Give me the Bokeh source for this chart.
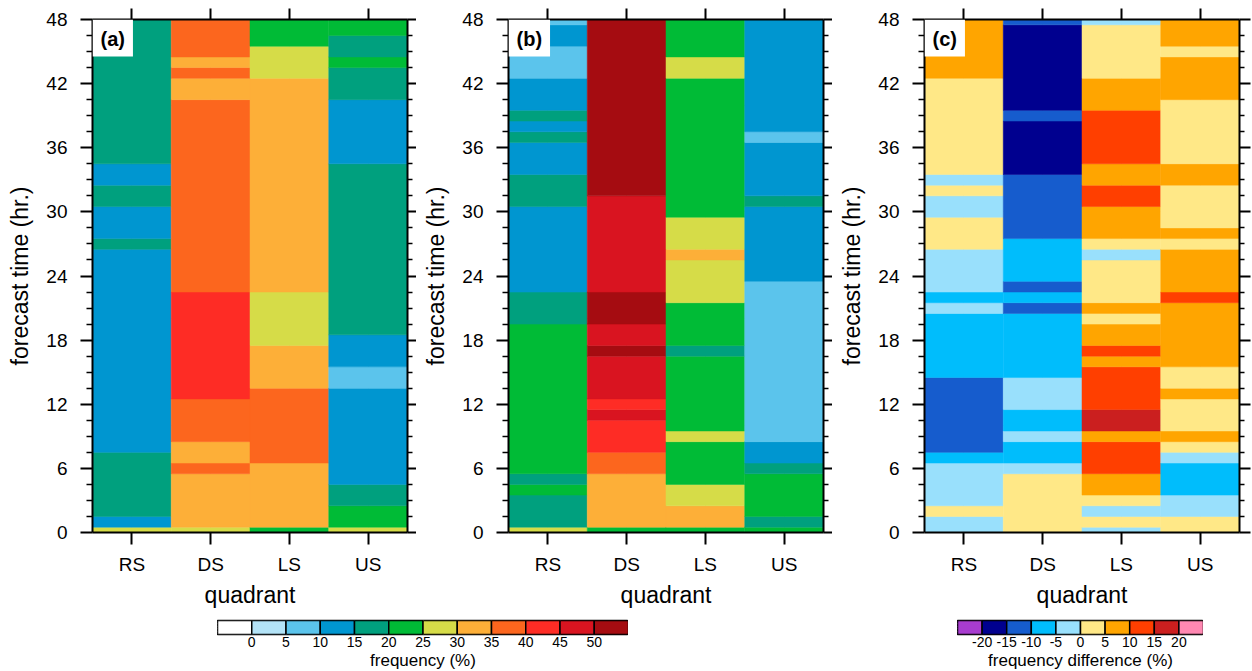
from bokeh.plotting import figure
from bokeh.models import (Range1d, FactorRange, LinearAxis, CategoricalAxis, FixedTicker,
                          ColumnDataSource, Label, Spacer, LinearColorMapper,
                          CustomLabelingPolicy)
from bokeh.layouts import row, column
from bokeh.embed import file_html
from bokeh.resources import INLINE
import numpy as np

FONT = "Liberation Sans"

quadrants = ["RS", "DS", "LS", "US"]
hours = list(range(49))          # 0 .. 48 hr
y_ticks = [0, 6, 12, 18, 24, 30, 36, 42, 48]

freq_palette = ["#ffffff", "#b3e3f7", "#5bc4ec", "#0096d0", "#00a07e", "#00bb36",
                "#d6dc48", "#fdaf38", "#fc661e", "#fe2c25", "#d91420", "#a50c11"]
freq_labels = ["0", "5", "10", "15", "20", "25", "30", "35", "40", "45", "50"]
diff_palette = ["#a83ccf", "#00008f", "#165ccd", "#00bdfc", "#99e0fc",
                "#ffe887", "#ffa500", "#ff3f00", "#cb1f1f", "#ff88b2"]
diff_labels = ["-20", "-15", "-10", "-5", "0", "5", "10", "15", "20"]

# ---------------- (a) frequency (%) per forecast hour 0..48 ----------------
a_RS = [27.5, 12.5, 17.5, 17.5, 17.5, 17.5, 17.5,
        17.5, 12.5, 12.5, 12.5, 12.5, 12.5, 12.5,
        12.5, 12.5, 12.5, 12.5, 12.5, 12.5, 12.5,
        12.5, 12.5, 12.5, 12.5, 12.5, 12.5, 17.5,
        12.5, 12.5, 12.5, 17.5, 17.5, 12.5, 12.5,
        17.5, 17.5, 17.5, 17.5, 17.5, 17.5, 17.5,
        17.5, 17.5, 17.5, 17.5, 17.5, 17.5, 17.5]
a_DS = [27.5, 32.5, 32.5, 32.5, 32.5, 32.5, 37.5,
        32.5, 32.5, 37.5, 37.5, 37.5, 37.5, 42.5,
        42.5, 42.5, 42.5, 42.5, 42.5, 42.5, 42.5,
        42.5, 42.5, 37.5, 37.5, 37.5, 37.5, 37.5,
        37.5, 37.5, 37.5, 37.5, 37.5, 37.5, 37.5,
        37.5, 37.5, 37.5, 37.5, 37.5, 37.5, 32.5,
        32.5, 37.5, 32.5, 37.5, 37.5, 37.5, 37.5]
a_LS = [22.5, 32.5, 32.5, 32.5, 32.5, 32.5, 32.5,
        37.5, 37.5, 37.5, 37.5, 37.5, 37.5, 37.5,
        32.5, 32.5, 32.5, 32.5, 27.5, 27.5, 27.5,
        27.5, 27.5, 32.5, 32.5, 32.5, 32.5, 32.5,
        32.5, 32.5, 32.5, 32.5, 32.5, 32.5, 32.5,
        32.5, 32.5, 32.5, 32.5, 32.5, 32.5, 32.5,
        32.5, 27.5, 27.5, 27.5, 22.5, 22.5, 22.5]
a_US = [27.5, 22.5, 22.5, 17.5, 17.5, 12.5, 12.5,
        12.5, 12.5, 12.5, 12.5, 12.5, 12.5, 12.5,
        7.5, 7.5, 12.5, 12.5, 12.5, 17.5, 17.5,
        17.5, 17.5, 17.5, 17.5, 17.5, 17.5, 17.5,
        17.5, 17.5, 17.5, 17.5, 17.5, 17.5, 17.5,
        12.5, 12.5, 12.5, 12.5, 12.5, 12.5, 17.5,
        17.5, 17.5, 22.5, 17.5, 17.5, 22.5, 22.5]

# ---------------- (b) frequency (%) ----------------
b_RS = [27.5, 17.5, 17.5, 17.5, 22.5, 17.5, 22.5,
        22.5, 22.5, 22.5, 22.5, 22.5, 22.5, 22.5,
        22.5, 22.5, 22.5, 22.5, 22.5, 22.5, 17.5,
        17.5, 17.5, 12.5, 12.5, 12.5, 12.5, 12.5,
        12.5, 12.5, 12.5, 17.5, 17.5, 17.5, 12.5,
        12.5, 12.5, 17.5, 12.5, 17.5, 12.5, 12.5,
        12.5, 7.5, 7.5, 7.5, 12.5, 12.5, 7.5]
b_DS = [22.5, 32.5, 32.5, 32.5, 32.5, 32.5, 37.5,
        37.5, 42.5, 42.5, 42.5, 47.5, 42.5, 47.5,
        47.5, 47.5, 47.5, 52.5, 47.5, 47.5, 52.5,
        52.5, 52.5, 47.5, 47.5, 47.5, 47.5, 47.5,
        47.5, 47.5, 47.5, 47.5, 52.5, 52.5, 52.5,
        52.5, 52.5, 52.5, 52.5, 52.5, 52.5, 52.5,
        52.5, 52.5, 52.5, 52.5, 52.5, 52.5, 52.5]
b_LS = [22.5, 32.5, 32.5, 27.5, 27.5, 22.5, 22.5,
        22.5, 22.5, 27.5, 22.5, 22.5, 22.5, 22.5,
        22.5, 22.5, 22.5, 17.5, 22.5, 22.5, 22.5,
        22.5, 27.5, 27.5, 27.5, 27.5, 32.5, 27.5,
        27.5, 27.5, 22.5, 22.5, 22.5, 22.5, 22.5,
        22.5, 22.5, 22.5, 22.5, 22.5, 22.5, 22.5,
        22.5, 27.5, 27.5, 22.5, 22.5, 22.5, 22.5]
b_US = [22.5, 17.5, 22.5, 22.5, 22.5, 22.5, 17.5,
        12.5, 12.5, 7.5, 7.5, 7.5, 7.5, 7.5,
        7.5, 7.5, 7.5, 7.5, 7.5, 7.5, 7.5,
        7.5, 7.5, 7.5, 12.5, 12.5, 12.5, 12.5,
        12.5, 12.5, 12.5, 17.5, 12.5, 12.5, 12.5,
        12.5, 12.5, 7.5, 12.5, 12.5, 12.5, 12.5,
        12.5, 12.5, 12.5, 12.5, 12.5, 12.5, 12.5]

# ---------------- (c) frequency difference (%) ----------------
c_RS = [-2.5, -2.5, 2.5, -2.5, -2.5, -2.5, -2.5,
        -7.5, -12.5, -12.5, -12.5, -12.5, -12.5, -12.5,
        -12.5, -7.5, -7.5, -7.5, -7.5, -7.5, -7.5,
        -2.5, -7.5, -2.5, -2.5, -2.5, -2.5, 2.5,
        2.5, 2.5, -2.5, -2.5, 2.5, -2.5, 2.5,
        2.5, 2.5, 2.5, 2.5, 2.5, 2.5, 2.5,
        2.5, 7.5, 7.5, 7.5, 7.5, 7.5, 7.5]
c_DS = [2.5, 2.5, 2.5, 2.5, 2.5, 2.5, -2.5,
        -7.5, -7.5, -2.5, -7.5, -7.5, -2.5, -2.5,
        -2.5, -7.5, -7.5, -7.5, -7.5, -7.5, -7.5,
        -12.5, -7.5, -12.5, -7.5, -7.5, -7.5, -7.5,
        -12.5, -12.5, -12.5, -12.5, -12.5, -12.5, -17.5,
        -17.5, -17.5, -17.5, -17.5, -12.5, -17.5, -17.5,
        -17.5, -17.5, -17.5, -17.5, -17.5, -17.5, -12.5]
c_LS = [-2.5, 2.5, -2.5, 2.5, 7.5, 7.5, 12.5,
        12.5, 12.5, 7.5, 17.5, 17.5, 12.5, 12.5,
        12.5, 12.5, 7.5, 12.5, 7.5, 7.5, 2.5,
        7.5, 2.5, 2.5, 2.5, 2.5, -2.5, 2.5,
        7.5, 7.5, 7.5, 12.5, 12.5, 7.5, 7.5,
        12.5, 12.5, 12.5, 12.5, 12.5, 7.5, 7.5,
        7.5, 2.5, 2.5, 2.5, 2.5, 2.5, -2.5]
c_US = [2.5, 2.5, -2.5, -2.5, -7.5, -7.5, -7.5,
        -2.5, 2.5, 7.5, 2.5, 2.5, 2.5, 7.5,
        2.5, 2.5, 7.5, 7.5, 7.5, 7.5, 7.5,
        7.5, 12.5, 7.5, 7.5, 7.5, 7.5, 2.5,
        7.5, 2.5, 2.5, 2.5, 2.5, 7.5, 7.5,
        2.5, 2.5, 2.5, 2.5, 2.5, 2.5, 7.5,
        7.5, 7.5, 7.5, 2.5, 7.5, 7.5, 7.5]

NO_LABELS = CustomLabelingPolicy(code="""
    for (const i of indices) { indices.unset(i) }
    return indices
""")


def style_axis(ax, label_size="19px"):
    ax.axis_line_width = 2
    ax.axis_line_color = "black"
    ax.major_tick_line_width = 2
    ax.major_tick_line_color = "black"
    ax.minor_tick_line_width = 1.5
    ax.minor_tick_line_color = "black"
    ax.major_tick_in = 0
    ax.minor_tick_in = 0
    ax.major_label_text_font = FONT
    ax.major_label_text_font_size = label_size
    ax.major_label_text_color = "black"
    ax.axis_label_text_font = FONT
    ax.axis_label_text_font_size = "23px"
    ax.axis_label_text_font_style = "normal"
    ax.axis_label_text_color = "black"


def runs(vals):
    """contiguous runs of equal value -> (first hour, last hour, value)"""
    out = []
    start = 0
    for i in range(1, len(vals) + 1):
        if i == len(vals) or vals[i] != vals[start]:
            out.append((hours[start], hours[i - 1], vals[start]))
            start = i
    return out


def panel(series, palette, low, high, tag, right_border=9, right_tick=9):
    xs, ys, hs, vs = [], [], [], []
    for q, vals in zip(quadrants, series):
        for h0, h1, v in runs(vals):
            xs.append(q)
            ys.append((h0 + h1) / 2)
            hs.append(h1 - h0 + 1)
            vs.append(v)
    src = ColumnDataSource(dict(x=xs, y=ys, h=hs, v=vs))
    mapper = LinearColorMapper(palette=palette, low=low, high=high)

    p = figure(x_range=FactorRange(factors=quadrants), y_range=Range1d(0, 48),
               frame_width=315, frame_height=513,
               min_border_left=92, min_border_right=right_border,
               min_border_top=19, min_border_bottom=78,
               x_axis_location=None, y_axis_location=None,
               toolbar_location=None, output_backend="svg")
    p.outline_line_color = None
    p.background_fill_color = "white"
    p.border_fill_color = "white"

    p.rect(x="x", y="y", width=1, height="h", source=src,
           fill_color={"field": "v", "transform": mapper},
           line_color={"field": "v", "transform": mapper}, line_width=0.5)

    minor = [float(m) for m in np.arange(0, 48.01, 1.5) if m % 6 != 0]

    left = LinearAxis(ticker=FixedTicker(ticks=y_ticks, minor_ticks=minor),
                      axis_label="forecast time (hr.)")
    style_axis(left)
    left.major_tick_out = 12
    left.minor_tick_out = 6
    left.major_label_standoff = 13
    left.axis_label_standoff = 10
    p.add_layout(left, "left")

    right = LinearAxis(ticker=FixedTicker(ticks=y_ticks, minor_ticks=minor))
    style_axis(right, "0px")
    right.major_tick_out = right_tick
    right.minor_tick_out = 5
    right.major_label_standoff = 0
    right.major_label_policy = NO_LABELS
    p.add_layout(right, "right")

    below = CategoricalAxis(axis_label="quadrant")
    style_axis(below)
    below.major_tick_out = 12
    below.major_label_standoff = 9
    below.axis_label_standoff = 4
    p.add_layout(below, "below")

    above = CategoricalAxis()
    style_axis(above, "0px")
    above.major_tick_out = 11
    above.major_label_standoff = 0
    above.major_label_policy = NO_LABELS
    p.add_layout(above, "above")

    p.add_layout(Label(x=0, y=48, text=tag, text_font=FONT, text_font_size="20px",
                       text_font_style="bold", text_color="black",
                       text_align="left", text_baseline="top",
                       x_offset=0, y_offset=0, background_fill_color="white",
                       padding=dict(left=8, right=8, top=8, bottom=7)))
    return p


def cbar(palette, labels, title, fw):
    n = len(palette)
    lefts = list(range(n))
    rights = [i + 1 for i in lefts]
    p = figure(x_range=Range1d(0, n), y_range=Range1d(0, 1),
               frame_width=fw, frame_height=14,
               min_border_left=0, min_border_right=0, min_border_top=10, min_border_bottom=0,
               x_axis_location=None, y_axis_location=None,
               toolbar_location=None, output_backend="svg")
    p.quad(left=lefts, right=rights, bottom=0, top=1, fill_color=palette,
           line_color="black", line_width=1.5)
    p.outline_line_color = "black"
    p.outline_line_width = 1.5
    ticks = list(range(1, n))
    ax = LinearAxis(ticker=FixedTicker(ticks=ticks, minor_ticks=[]),
                    major_label_overrides={t: lab for t, lab in zip(ticks, labels)},
                    axis_label=title)
    ax.axis_line_color = None
    ax.major_tick_line_color = None
    ax.minor_tick_line_color = None
    ax.major_tick_out = 0
    ax.major_tick_in = 0
    ax.major_label_standoff = 2
    ax.major_label_text_font = FONT
    ax.major_label_text_font_size = "14px"
    ax.major_label_text_color = "black"
    ax.axis_label_text_font = FONT
    ax.axis_label_text_font_size = "17px"
    ax.axis_label_text_font_style = "normal"
    ax.axis_label_text_color = "black"
    ax.axis_label_standoff = 1
    p.add_layout(ax, "below")
    return p


pa = panel([a_RS, a_DS, a_LS, a_US], freq_palette, -5, 55, "(a)")
pb = panel([b_RS, b_DS, b_LS, b_US], freq_palette, -5, 55, "(b)")
pc = panel([c_RS, c_DS, c_LS, c_US], diff_palette, -25, 25, "(c)", right_border=12, right_tick=11)

cb1 = cbar(freq_palette, freq_labels, "frequency (%)", 411)
cb2 = cbar(diff_palette, diff_labels, "frequency difference (%)", 246)

layout = column(row(pa, pb, pc),
                row(Spacer(width=217, height=10), cb1, Spacer(width=329, height=10), cb2))

open("out.html", "w").write(file_html(layout, INLINE))
